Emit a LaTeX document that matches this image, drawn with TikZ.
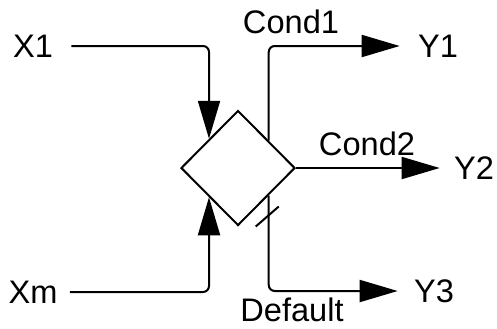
\documentclass[tikz,border=0pt]{standalone}
\usepackage{fontspec}
\setmainfont{Liberation Sans}
\usepackage{tikz}
\usetikzlibrary{shapes.geometric,arrows.meta,calc}

\begin{document}
\begin{tikzpicture}[x=0.5pt, y=-0.5pt]
                \tikzstyle{port} = [inner sep=0pt, font=\fontsize{16.3}{19}\selectfont]
                \tikzstyle{gatebox} = [diamond, draw, line width=1pt, minimum width=57pt, minimum height=57.5pt, inner sep=0pt, aspect=1]
                \tikzstyle{arrow} = [line width=1pt, rounded corners=3pt, -{Triangle[length=19pt, width=11pt]}]
                \useasboundingbox (0,0) rectangle (497,328);

                \node (gate) [gatebox] at (238,168) {};
                \node (x1) [port] at (33,46) {X1};
                \node (xm) [port] at (33,292) {Xm};
                \node (y1) [port] at (438,46) {Y1};
                \node (y2) [port] at (474,168) {Y2};
                \node (y3) [port] at (434,291) {Y3};
                \node (cond1) [port] at (291,22) {Cond1};
                \node (cond2) [port] at (367,144) {Cond2};
                \node (default) [port] at (292,310) {Default};

                \coordinate (inA) at ($(gate.west)!0.5!(gate.north)$);
                \coordinate (inB) at ($(gate.west)!0.5!(gate.south)$);
                \coordinate (outA) at ($(gate.east)!0.47!(gate.north)$);
                \coordinate (outC) at ($(gate.east)!0.47!(gate.south)$);

                \draw [arrow] ([xshift=9pt]x1.east) -| (inA);
                \draw [arrow] ([xshift=6pt]xm.east) -| (inB);
                \draw [arrow] (outA) |- ([xshift=-9pt]y1.west);
                \draw [arrow] (gate.east) -- ([xshift=-7pt]y2.west);
                \draw [arrow] (outC) |- ([xshift=-8pt]y3.west);
                \draw [line width=1pt] ($(outC)+(-13,31)$) -- ($(outC)+(10,11)$);
            \end{tikzpicture}
\end{document}
